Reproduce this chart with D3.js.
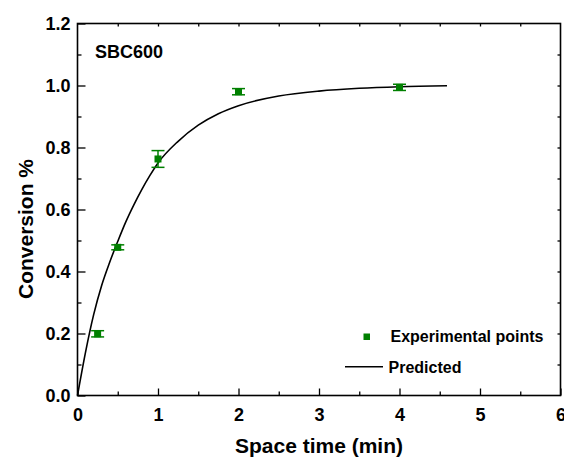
<!DOCTYPE html>
<html>
<head>
<meta charset="utf-8">
<script src="https://cdn.jsdelivr.net/npm/d3@7"></script>
<style>
  body { margin: 0; background: #fff; }
  svg text { font-family: "Liberation Sans", Arial, sans-serif; font-weight: bold; fill: #000; }
</style>
</head>
<body>
<div id="chart"></div>
<script>
// experimental points
var expTime = [0.25, 0.5, 1.0, 2.0, 4.0];
var expConv = [0.199, 0.478, 0.763, 0.980, 0.994];
var expErr  = [0.010, 0.008, 0.027, 0.010, 0.010];

// predicted curve
var predTime = [0, 0.1, 0.2, 0.3, 0.4, 0.5, 0.6, 0.7, 0.8, 0.9, 1.0, 1.25, 1.5, 1.75, 2.0, 2.5, 3.0, 3.5, 4.0, 4.59];
var predConv = [0, 0.140, 0.260, 0.355, 0.430, 0.497, 0.560, 0.615, 0.665, 0.710, 0.750, 0.820, 0.872, 0.909, 0.935, 0.966, 0.982, 0.991, 0.996, 0.999];

var xTicks = [0, 1, 2, 3, 4, 5, 6];
var yTicks = [0, 0.2, 0.4, 0.6, 0.8, 1.0, 1.2];

var width = 564, height = 457;
var margin = {left: 77.5, right: 3.5, top: 23.5, bottom: 61.5};
var green = "#008000";

var svg = d3.select("#chart").append("svg")
    .attr("width", width)
    .attr("height", height);

var x = d3.scaleLinear().domain([0, 6]).range([margin.left, width - margin.right]);
var y = d3.scaleLinear().domain([0, 1.2]).range([height - margin.bottom, margin.top]);

// bottom axis: major ticks + minor, inside
svg.append("g")
    .attr("transform", `translate(0,${y(0)})`)
    .call(d3.axisBottom(x).tickValues(d3.range(0.5, 6, 1)).tickSize(-4).tickFormat(""))
    .call(g => g.select(".domain").remove());
var xAx = svg.append("g")
    .attr("transform", `translate(0,${y(0)})`)
    .call(d3.axisBottom(x).tickValues(xTicks).tickSize(-7).tickPadding(13).tickFormat(d3.format("d")));
xAx.select(".domain").remove();
xAx.selectAll("text").attr("font-size", 18).attr("fill", "#000");

// left axis
svg.append("g")
    .attr("transform", `translate(${x(0)},0)`)
    .call(d3.axisLeft(y).tickValues(d3.range(0.1, 1.2, 0.2)).tickSize(-4).tickFormat(""))
    .call(g => g.select(".domain").remove());
var yAx = svg.append("g")
    .attr("transform", `translate(${x(0)},0)`)
    .call(d3.axisLeft(y).tickValues(yTicks).tickSize(-8).tickPadding(7).tickFormat(d3.format(".1f")));
yAx.select(".domain").remove();
yAx.selectAll("text").attr("font-size", 18).attr("fill", "#000").attr("dy", "0.35em");

// top & right ticks, inside
svg.append("g")
    .attr("transform", `translate(0,${y(1.2)})`)
    .call(d3.axisTop(x).tickValues(d3.range(0.5, 6, 0.5)).tickSize(-3).tickFormat(""))
    .call(g => g.select(".domain").remove());
svg.append("g")
    .attr("transform", `translate(${x(6)},0)`)
    .call(d3.axisRight(y).tickValues(d3.range(0.1, 1.2, 0.1)).tickSize(-3).tickFormat(""))
    .call(g => g.select(".domain").remove());

svg.selectAll(".tick line").attr("stroke", "#000").attr("stroke-width", 1.3);

// frame
svg.append("rect")
    .attr("x", x(0)).attr("y", y(1.2))
    .attr("width", x(6) - x(0)).attr("height", y(0) - y(1.2))
    .attr("fill", "none").attr("stroke", "#000").attr("stroke-width", 1.6);

// predicted curve
var line = d3.line()
    .x(function(d, i) { return x(predTime[i]); })
    .y(function(d) { return y(d); })
    .curve(d3.curveMonotoneX);
svg.append("path")
    .datum(predConv)
    .attr("d", line)
    .attr("fill", "none")
    .attr("stroke", "#000")
    .attr("stroke-width", 1.6);

// error bars
var pts = expTime.map(function(t, i) { return {t: t, v: expConv[i], e: expErr[i]}; });
var eb = svg.append("g").attr("stroke", green).attr("stroke-width", 1.5);
pts.forEach(function(d) {
    eb.append("line").attr("x1", x(d.t)).attr("x2", x(d.t)).attr("y1", y(d.v - d.e)).attr("y2", y(d.v + d.e));
    eb.append("line").attr("x1", x(d.t) - 6.5).attr("x2", x(d.t) + 6.5).attr("y1", y(d.v - d.e)).attr("y2", y(d.v - d.e));
    eb.append("line").attr("x1", x(d.t) - 6.5).attr("x2", x(d.t) + 6.5).attr("y1", y(d.v + d.e)).attr("y2", y(d.v + d.e));
});
svg.append("g").selectAll("rect")
    .data(pts)
    .enter().append("rect")
    .attr("x", function(d) { return x(d.t) - 3.5; })
    .attr("y", function(d) { return y(d.v) - 3.5; })
    .attr("width", 7).attr("height", 7)
    .attr("fill", green);

// label
svg.append("text").attr("x", 95).attr("y", 58).attr("font-size", 18).text("SBC600");

// legend
svg.append("rect").attr("x", 363.5).attr("y", 333.5).attr("width", 6.5).attr("height", 6.5).attr("fill", green);
svg.append("text").attr("x", 390.5).attr("y", 342).attr("font-size", 16).text("Experimental points");
svg.append("line").attr("x1", 345).attr("x2", 383).attr("y1", 366.7).attr("y2", 366.7)
    .attr("stroke", "#000").attr("stroke-width", 1.6);
svg.append("text").attr("x", 388.5).attr("y", 372.5).attr("font-size", 16).text("Predicted");

// axis titles
svg.append("text")
    .attr("x", (x(0) + x(6)) / 2).attr("y", 453)
    .attr("text-anchor", "middle").attr("font-size", 21)
    .text("Space time (min)");
svg.append("text")
    .attr("transform", "translate(33,229) rotate(-90)")
    .attr("text-anchor", "middle").attr("font-size", 21)
    .text("Conversion %");
</script>
</body>
</html>
